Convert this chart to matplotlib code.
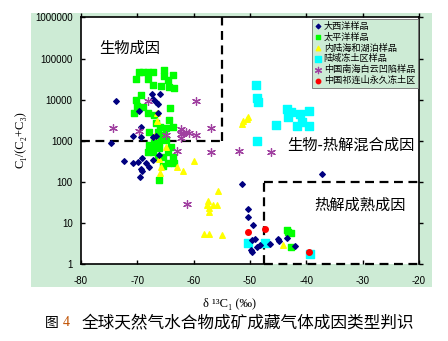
import matplotlib
matplotlib.use("Agg")
import matplotlib.pyplot as plt
from matplotlib.patches import Rectangle

plt.rcParams['font.family'] = ['Liberation Sans', 'Noto Sans CJK SC', 'DejaVu Sans']

# 大西洋样品
atl_x = [-73.8, -67.4, -66.0, -67.3, -66.7, -66.4, -69.7, -66.4, -69.4, -70.8,
         -69.4, -74.7, -67.3, -66.7, -72.4, -70.8, -69.9, -69.2, -68.5, -68.0,
         -67.3, -69.4, -69.2, -69.6, -66.2,
         -51.5, -37.2, -50.3, -50.3, -49.4, -49.7, -49.2, -49.9, -49.6, -48.7,
         -48.3, -46.5, -45.1, -44.8, -43.4, -42.1]
atl_y = [9300, 13800, 13800, 10400, 8800, 7900, 5300, 4800, 2180, 1320,
         1240, 890, 1240, 1320, 325, 290, 310, 380, 290, 235,
         345, 210, 185, 133, 455,
         90, 158, 22, 14, 9.1, 3.9, 4.2, 2.2, 2.0, 2.7,
         3.0, 3.1, 4.2, 3.7, 4.4, 2.8]

# 太平洋样品
pac_x = [-70.3, -68.1, -69.7, -69.0, -68.1, -67.3, -65.3, -65.3, -64.6, -63.7,
         -63.5, -64.4, -65.8, -67.3, -69.4, -70.1, -69.0, -70.6, -68.1, -67.1,
         -64.2, -64.4, -65.0, -66.0, -66.7, -66.4, -65.3, -63.7, -68.0, -67.1,
         -66.2, -68.1, -67.3, -66.4, -65.5, -64.6, -64.1, -63.7, -63.5, -64.6,
         -65.5, -68.0, -65.8, -66.2, -70.3, -67.1, -66.2, -64.9,
         -43.5, -43.2, -42.7, -42.8]
pac_y = [31600, 31600, 47000, 47000, 47000, 47000, 52500, 38000, 30000, 40000,
         19200, 20300, 21500, 23000, 13000, 7000, 6700, 4800, 4800, 4300,
         6300, 3250, 2060, 2180, 2750, 1650, 1380, 2180, 790, 710,
         670, 535, 535, 405, 405, 535, 710, 405, 290, 290,
         245, 1650, 1380, 112, 9800, 1000, 950, 1050,
         6.9, 6.2, 5.8, 2.7]

# 内陆海和湖泊样品
lake_x = [-66.5, -66.5, -67.1, -65.0, -66.2, -65.8, -66.0, -63.0, -61.9, -60.0,
          -55.6, -57.5, -57.7, -56.5, -55.9, -57.2, -57.2, -58.1, -57.3, -55.0,
          -51.5, -51.2, -50.6, -50.4, -44.1]
lake_y = [4800, 3000, 1320, 710, 365, 235, 166, 235, 185, 325,
          60, 35, 28, 28, 28, 23, 19, 5.5, 5.5, 5.2,
          2600, 3000, 3400, 3800, 3.0]

# 陆域冻土区样品
perm_x = [-49.0, -48.7, -48.5, -43.4, -42.8, -43.2, -41.2, -39.6, -40.7, -41.6,
          -39.6, -45.3, -48.7, -50.4, -47.3, -39.3]
perm_y = [23000, 11000, 8800, 5900, 5000, 3800, 4500, 5300, 2900, 2300,
          2300, 2450, 1000, 3.3, 3.3, 1.8]

# 中国南海白云凹陷样品
scs_x = [-68.1, -59.6, -74.3, -69.7, -65.0, -62.3, -61.9, -61.4, -60.9, -59.6,
         -62.3, -62.3, -57.0, -63.0, -57.0, -61.1, -51.9, -46.2]
scs_y = [9300, 9300, 2060, 1740, 1380, 1950, 1550, 1650, 1550, 1380,
         1180, 1450, 2060, 565, 535, 29, 565, 535]

# 中国祁连山永久冻土区
ql_x = [-50.4, -47.3, -39.5]
ql_y = [6.2, 7.3, 2.0]

xticks = [-80, -70, -60, -50, -40, -30, -20]
yticks = [1, 10, 100, 1000, 10000, 100000, 1000000]

bg = '#CDEBD5'
fig = plt.figure(figsize=(4.48, 3.41), dpi=100)
fig.patches.append(Rectangle((0.069, 0.158), 0.895, 0.803, transform=fig.transFigure,
                             facecolor=bg, edgecolor='none', zorder=-5))
ax = fig.add_axes([0.1808, 0.2244, 0.7545, 0.7243])
ax.set_facecolor('white')
ax.set_yscale('log')
ax.set_xlim(-80, -20)
ax.set_ylim(1, 1000000)

ax.scatter(atl_x, atl_y, marker='D', s=8, color='#000080', label='大西洋样品', zorder=4)
ax.scatter(pac_x, pac_y, marker='s', s=20, color='#00FF00', label='太平洋样品', zorder=3)
ax.scatter(lake_x, lake_y, marker='^', s=16, color='#FFFF00', label='内陆海和湖泊样品', zorder=3)
ax.scatter(perm_x, perm_y, marker='s', s=30, color='#00FFFF', label='陆域冻土区样品', zorder=3)
ax.scatter(scs_x, scs_y, marker=(6, 2, 0), s=32, color='#A040A0', linewidths=0.9,
           label='中国南海白云凹陷样品', zorder=5)
ax.scatter(ql_x, ql_y, marker='o', s=16, color='#FF0000', label='中国祁连山永久冻土区', zorder=5)

# 分区虚线
dash = dict(color='black', lw=1.6, ls=(0, (4, 2.5)), zorder=2)
ax.plot([-80, -55], [1000, 1000], **dash)
ax.plot([-55, -55], [1000, 1000000], **dash)
ax.plot([-47.6, -47.6], [1, 100], **dash)
ax.plot([-47.6, -20], [100, 100], **dash)
ax.plot([-47.6, -20], [1, 1], clip_on=False, **dash)
ax.spines['bottom'].set_bounds(-80, -47.6)

cjk = ['Noto Sans CJK SC', 'DejaVu Sans']
ax.text(-76.8, 180000, '生物成因', fontsize=11, family=cjk, va='center', ha='left')
ax.text(-43.4, 795, '生物-热解混合成因', fontsize=11, family=cjk, va='center', ha='left')
ax.text(-38.6, 27.7, '热解成熟成因', fontsize=11, family=cjk, va='center', ha='left')

for s in ax.spines.values():
    s.set_linewidth(1.2)
ax.set_xticks(xticks)
ax.set_xticklabels([str(t) for t in xticks])
ax.set_yticks(yticks)
ax.set_yticklabels([str(t) for t in yticks])
ax.yaxis.set_minor_locator(matplotlib.ticker.NullLocator())
ax.tick_params(direction='in', length=3, width=1, labelsize=7, pad=6)
ax.tick_params(axis='x', pad=8)

# 上、右两侧刻度朝外
axt = ax.twiny()
axt.set_xlim(ax.get_xlim())
axt.set_xticks(xticks)
axt.tick_params(direction='out', length=3, width=1, labeltop=False)
axr = ax.twinx()
axr.set_yscale('log')
axr.set_ylim(ax.get_ylim())
axr.set_yticks(yticks)
axr.yaxis.set_minor_locator(matplotlib.ticker.NullLocator())
axr.tick_params(direction='out', length=3, width=1, labelright=False)
for a in (axt, axr):
    for s in a.spines.values():
        s.set_visible(False)

leg = ax.legend(loc='upper right', bbox_to_anchor=(1.0, 1.0), borderaxespad=0.15,
                prop={'family': cjk, 'size': 6.6}, frameon=True, fancybox=False,
                handletextpad=0.2, handlelength=0.8, borderpad=0.3,
                labelspacing=0.2, markerscale=0.8)
leg.get_frame().set_facecolor(bg)
leg.get_frame().set_edgecolor('#707070')
leg.get_frame().set_linewidth(0.6)
leg.get_frame().set_alpha(1)
leg.set_zorder(10)

serif = ['Liberation Serif', 'DejaVu Serif']
fig.text(0.513, 0.108, 'δ ¹³C₁ (‰)', family=serif, fontsize=9, ha='center', va='center')
fig.text(0.045, 0.59, 'C₁/(C₂+C₃)', family=serif, fontsize=9, ha='center', va='center',
         rotation=90)
fig.text(0.1, 0.053, '图', family=cjk, fontsize=10, ha='left', va='center')
fig.text(0.14, 0.053, '4', family=serif, fontsize=10, ha='left', va='center', color='#C05000')
fig.text(0.183, 0.053, '全球天然气水合物成矿成藏气体成因类型判识', family=cjk,
         fontsize=12, ha='left', va='center')

fig.savefig('out.png', dpi=100)
